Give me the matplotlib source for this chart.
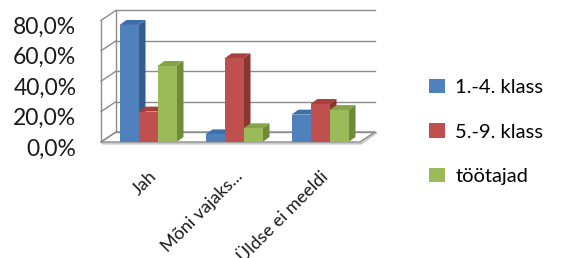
import matplotlib
matplotlib.use("Agg")
import matplotlib.pyplot as plt
from matplotlib.patches import Polygon, Patch
from matplotlib.transforms import ScaledTranslation
import numpy as np

plt.rcParams['font.family'] = ['Lato', 'DejaVu Sans']

# data
categories = ["Jah", "Mõni vajaks...", "Üldse ei meeldi"]
series_names = ["1.-4. klass", "5.-9. klass", "töötajad"]
blue_vals = [77, 5, 18]
red_vals = [20, 55, 25]
green_vals = [50, 9, 21]
y_ticks = [0, 20, 40, 60, 80]
y_tick_labels = ["0,0%", "20,0%", "40,0%", "60,0%", "80,0%"]

front_col = ["#4F81BD", "#C0504D", "#9BBB59"]
side_col = ["#345C8C", "#8C3432", "#6E8A3A"]
top_col = ["#3F6FA8", "#A8403E", "#86A348"]

W, H = 562, 258
fig = plt.figure(figsize=(W / 100, H / 100), dpi=100)

# pixel geometry of the plot box
px_left, px_right = 100, 380
px_top, px_bot = 5, 146
px_zero = 142
px_per_pct = 1.52
px_cat0, px_cat_step = 148, 86

ax = fig.add_axes([px_left / W, 1 - px_bot / H, (px_right - px_left) / W, (px_bot - px_top) / H])
ax.set_xlim((px_left - px_cat0) / px_cat_step, (px_right - px_cat0) / px_cat_step)
ax.set_ylim(-(px_bot - px_zero) / px_per_pct, (px_zero - px_top) / px_per_pct)


def dx(px):
    return px / px_cat_step


def dy(px):
    return px / px_per_pct


# floor / walls
wall_dx, wall_dy = dx(15), dy(10)
x0 = (101 - px_cat0) / px_cat_step
x1 = (360 - px_cat0) / px_cat_step
ymax = y_ticks[-1]
grid_c = "#8c8c8c"

floor = Polygon([(x0, 0), (x1, 0), (x1 + wall_dx, wall_dy), (x0 + wall_dx, wall_dy)],
                closed=True, facecolor="white", edgecolor=grid_c, lw=1.0, zorder=1)
ax.add_patch(floor)
# little shadow under floor edge
ax.plot([x0 + dx(2), x1 + dx(1), x1 + wall_dx + dx(1)], [-dy(1.5), -dy(1.5), wall_dy - dy(1)],
        color="#c8c8c8", lw=1.5, zorder=0.5)

for v in y_ticks:
    ax.plot([x0 + wall_dx, x1 + wall_dx], [v + wall_dy, v + wall_dy], color=grid_c, lw=1.0, zorder=1)
    ax.plot([x0, x0 + wall_dx], [v, v + wall_dy], color=grid_c, lw=1.0, zorder=1)
ax.plot([x0, x0], [0, ymax], color=grid_c, lw=1.0, zorder=1)
ax.plot([x0 + wall_dx, x0 + wall_dx], [wall_dy, ymax + wall_dy], color=grid_c, lw=1.0, zorder=1)

# bars
values = [blue_vals, red_vals, green_vals]
bw = dx(19)
bdx, bdy = dx(7), dy(5)
xs = np.arange(len(categories))
z = 2
for ci in range(len(categories)):
    for si in range(len(series_names)):
        xl = xs[ci] + (si - 1.5) * bw
        v = values[si][ci]
        ax.bar(xl, v, width=bw, align="edge", color=front_col[si], lw=0, zorder=z + 0.2)
        ax.add_patch(Polygon([(xl + bw, 0), (xl + bw + bdx, bdy), (xl + bw + bdx, v + bdy), (xl + bw, v)],
                             closed=True, facecolor=side_col[si], lw=0, zorder=z))
        ax.add_patch(Polygon([(xl, v), (xl + bw, v), (xl + bw + bdx, v + bdy), (xl + bdx, v + bdy)],
                             closed=True, facecolor=top_col[si], lw=0, zorder=z + 0.1))
        z += 1

# axes cosmetics
for s in ax.spines.values():
    s.set_visible(False)
ax.set_xticks([])
ax.set_yticks(y_ticks)
ax.set_yticklabels(y_tick_labels, fontsize=16.5, color="#1a1a1a")
ax.tick_params(axis="y", length=0, pad=17)
shift = ScaledTranslation(0, -5 / 100, fig.dpi_scale_trans)
for lab in ax.get_yticklabels():
    lab.set_transform(lab.get_transform() + shift)

# category labels
lab_off = ScaledTranslation(6 / 100, -32 / 100, fig.dpi_scale_trans)
for ci, name in enumerate(categories):
    ax.text(xs[ci], 0, name, rotation=45, rotation_mode="anchor", ha="right", va="center",
            fontsize=13, color="#1a1a1a", transform=ax.transData + lab_off, clip_on=False)

handles = [Patch(facecolor=c, edgecolor="none") for c in front_col]
fig.legend(handles, series_names, loc="center left", bbox_to_anchor=(429 / W, 1 - 132 / H),
           frameon=False, fontsize=14.5, handlelength=0.8, handleheight=0.7, handletextpad=0.5,
           labelspacing=1.35, borderpad=0, borderaxespad=0)

fig.savefig("out.png", dpi=100)
